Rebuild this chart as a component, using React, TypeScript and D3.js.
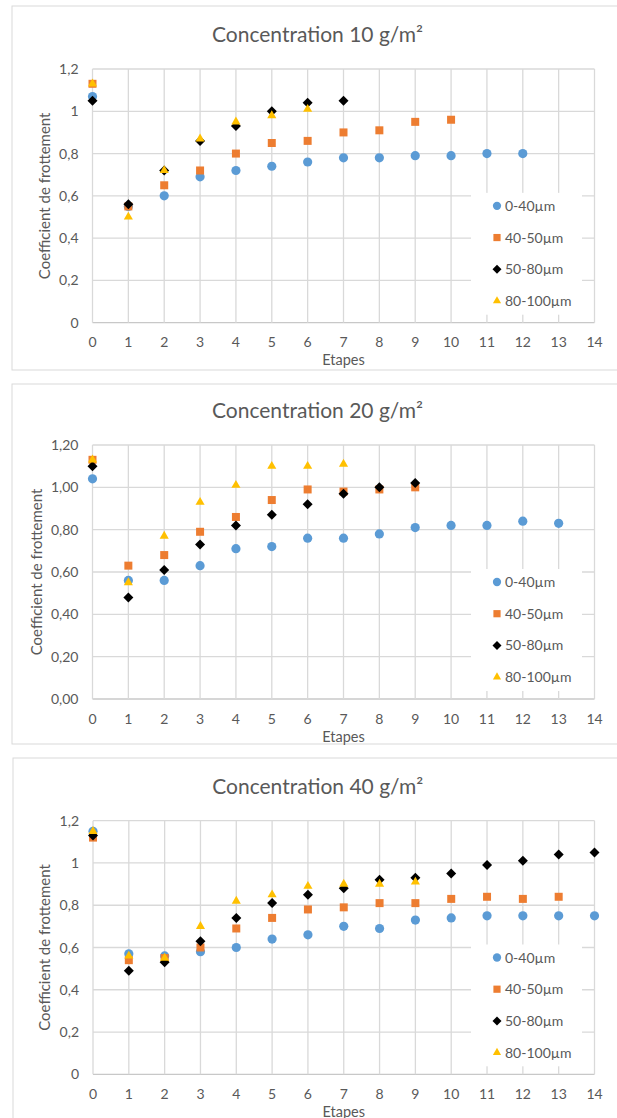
import React from 'react';
import * as d3 from 'd3';

// ---------- data ----------
const xTicks = [0, 1, 2, 3, 4, 5, 6, 7, 8, 9, 10, 11, 12, 13, 14];
const yTicks = [0, 0.2, 0.4, 0.6, 0.8, 1, 1.2];
const seriesNames = ['0-40µm', '40-50µm', '50-80µm', '80-100µm'];
const seriesColors = ['#5B9BD5', '#ED7D31', '#000000', '#FFC000'];
const seriesShapes = ['circle', 'square', 'diamond', 'triangle'];

// Concentration 10 g/m² (value per step, index = étape)
const c10_0_40 = [1.07, 0.55, 0.6, 0.69, 0.72, 0.74, 0.76, 0.78, 0.78, 0.79, 0.79, 0.8, 0.8];
const c10_40_50 = [1.13, 0.55, 0.65, 0.72, 0.8, 0.85, 0.86, 0.9, 0.91, 0.95, 0.96];
const c10_50_80 = [1.05, 0.56, 0.72, 0.86, 0.93, 1.0, 1.04, 1.05];
const c10_80_100 = [1.13, 0.5, 0.72, 0.87, 0.95, 0.98, 1.01];

// Concentration 20 g/m²
const c20_0_40 = [1.04, 0.56, 0.56, 0.63, 0.71, 0.72, 0.76, 0.76, 0.78, 0.81, 0.82, 0.82, 0.84, 0.83];
const c20_40_50 = [1.13, 0.63, 0.68, 0.79, 0.86, 0.94, 0.99, 0.98, 0.99, 1.0];
const c20_50_80 = [1.1, 0.48, 0.61, 0.73, 0.82, 0.87, 0.92, 0.97, 1.0, 1.02];
const c20_80_100 = [1.13, 0.55, 0.77, 0.93, 1.01, 1.1, 1.1, 1.11];

// Concentration 40 g/m²
const c40_0_40 = [1.15, 0.57, 0.56, 0.58, 0.6, 0.64, 0.66, 0.7, 0.69, 0.73, 0.74, 0.75, 0.75, 0.75, 0.75];
const c40_40_50 = [1.12, 0.54, 0.55, 0.6, 0.69, 0.74, 0.78, 0.79, 0.81, 0.81, 0.83, 0.84, 0.83, 0.84];
const c40_50_80 = [1.13, 0.49, 0.53, 0.63, 0.74, 0.81, 0.85, 0.88, 0.92, 0.93, 0.95, 0.99, 1.01, 1.04, 1.05];
const c40_80_100 = [1.15, 0.56, 0.55, 0.7, 0.82, 0.85, 0.89, 0.9, 0.9, 0.91];

const titles = ['Concentration 10 g/m²', 'Concentration 20 g/m²', 'Concentration 40 g/m²'];
const xTitle = 'Etapes';
const yTitle = 'Coefficient de frottement';

// ---------- layout ----------
const W = 617;
const H = 1118;
const TEXT = '#595959';
const GRID = '#d9d9d9';
const FONT = 'Lato, "Open Sans", sans-serif';

type ChartDef = {
  title: string;
  series: number[][];
  fixed2: boolean;
  frame: { top: number; bottom: number; left: number };
  plot: { left: number; right: number; top: number; bottom: number };
};

const charts: ChartDef[] = [
  {
    title: titles[0],
    series: [c10_0_40, c10_40_50, c10_50_80, c10_80_100],
    fixed2: false,
    frame: { top: 6, bottom: 370, left: 12 },
    plot: { left: 92.5, right: 594.5, top: 69, bottom: 322.7 },
  },
  {
    title: titles[1],
    series: [c20_0_40, c20_40_50, c20_50_80, c20_80_100],
    fixed2: true,
    frame: { top: 384, bottom: 744, left: 12 },
    plot: { left: 92.5, right: 594.5, top: 445, bottom: 699 },
  },
  {
    title: titles[2],
    series: [c40_0_40, c40_40_50, c40_50_80, c40_80_100],
    fixed2: false,
    frame: { top: 758, bottom: 1130, left: 13 },
    plot: { left: 93, right: 594.5, top: 820.7, bottom: 1074.3 },
  },
];

function Marker({ shape, color, x, y, scale = 1 }: { shape: string; color: string; x: number; y: number; scale?: number }) {
  if (shape === 'circle') return <circle cx={x} cy={y} r={4.6 * scale} fill={color} />;
  if (shape === 'square') {
    const p = d3.symbol(d3.symbolSquare, 64 * scale * scale)();
    return <path d={p || ''} transform={`translate(${x},${y})`} fill={color} />;
  }
  if (shape === 'diamond') {
    const p = d3.symbol(d3.symbolSquare, 50 * scale * scale)();
    return <path d={p || ''} transform={`translate(${x},${y}) rotate(45)`} fill={color} />;
  }
  const p = d3.symbol(d3.symbolTriangle, 36 * scale * scale)();
  return <path d={p || ''} transform={`translate(${x},${y})`} fill={color} />;
}

function Chart({ def }: { def: ChartDef }) {
  const { plot, frame } = def;
  const x = d3.scaleLinear().domain([0, 14]).range([plot.left, plot.right]);
  const y = d3.scaleLinear().domain([0, 1.2]).range([plot.bottom, plot.top]);
  const fmt = def.fixed2 ? d3.format('.2f') : d3.format('~g');
  const lab = (v: number) => fmt(v).replace('.', ',');

  const legTop = y(0.6) - 3;
  const legBottom = plot.bottom - 8;
  const legLeft = 471;
  const legRight = 582;
  const rowGap = 31.7;

  return (
    <g>
      <rect
        x={frame.left}
        y={frame.top}
        width={W + 10 - frame.left}
        height={frame.bottom - frame.top}
        fill="#fff"
        stroke={GRID}
        strokeWidth={1}
      />
      <text
        x={(plot.left + plot.right) / 2 - 26}
        y={plot.top - 27}
        textAnchor="middle"
        fontFamily={FONT}
        fontSize={21}
        fill={TEXT}
      >
        {def.title}
      </text>
      {/* grid */}
      {yTicks.map((t) => (
        <line key={'h' + t} x1={plot.left} x2={plot.right} y1={y(t)} y2={y(t)} stroke={t === 0 ? '#c8c8c8' : GRID} strokeWidth={1.3} />
      ))}
      {xTicks.map((t) => (
        <line key={'v' + t} x1={x(t)} x2={x(t)} y1={plot.top} y2={plot.bottom} stroke={GRID} strokeWidth={1.3} />
      ))}
      {/* tick labels */}
      {yTicks.map((t) => (
        <text key={'yl' + t} x={plot.left - 14} y={y(t) + 5} textAnchor="end" fontFamily={FONT} fontSize={14} fill={TEXT}>
          {lab(t)}
        </text>
      ))}
      {xTicks.map((t) => (
        <text key={'xl' + t} x={x(t)} y={plot.bottom + 24.5} textAnchor="middle" fontFamily={FONT} fontSize={14} fill={TEXT}>
          {t}
        </text>
      ))}
      <text x={(plot.left + plot.right) / 2} y={plot.bottom + 42.5} textAnchor="middle" fontFamily={FONT} fontSize={14.5} fill={TEXT}>
        {xTitle}
      </text>
      <text
        transform={`translate(${def.fixed2 ? 42 : 50},${(plot.top + plot.bottom) / 2}) rotate(-90)`}
        textAnchor="middle"
        fontFamily={FONT}
        fontSize={15}
        fill={TEXT}
      >
        {yTitle}
      </text>
      {/* legend box */}
      <rect x={legLeft} y={legTop} width={legRight - legLeft} height={legBottom - legTop} fill="#fff" />
      {/* data */}
      {def.series.map((s, si) => (
        <g key={'s' + si}>
          {s.map((v, i) => (
            <Marker key={i} shape={seriesShapes[si]} color={seriesColors[si]} x={x(i)} y={y(v)} />
          ))}
        </g>
      ))}
      {/* legend entries */}
      {seriesNames.map((n, i) => {
        const cy = legTop + 13 + i * rowGap;
        return (
          <g key={'lg' + i}>
            <Marker shape={seriesShapes[i]} color={seriesColors[i]} x={497} y={cy} scale={0.9} />
            <text x={505} y={cy + 5} fontFamily={FONT} fontSize={14} fill={TEXT}>
              {n}
            </text>
          </g>
        );
      })}
    </g>
  );
}

export default function App() {
  return (
    <svg width={W} height={H} style={{ position: 'absolute', left: 0, top: 0, background: '#fff' }}>
      <rect x={0} y={0} width={W} height={H} fill="#fff" />
      {charts.map((c, i) => (
        <Chart key={i} def={c} />
      ))}
    </svg>
  );
}
